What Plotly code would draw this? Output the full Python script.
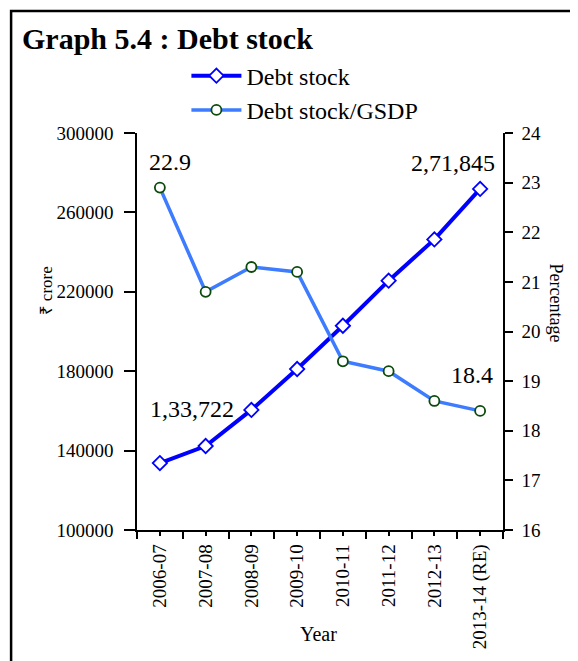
import plotly.graph_objects as go

years = ["2006-07", "2007-08", "2008-09", "2009-10", "2010-11", "2011-12", "2012-13", "2013-14 (RE)"]
debt_stock = [133722, 142300, 160500, 181100, 202900, 225600, 246400, 271845]
debt_gsdp = [22.9, 20.8, 21.3, 21.2, 19.4, 19.2, 18.6, 18.4]

left_ticks = [100000, 140000, 180000, 220000, 260000, 300000]
right_ticks = [16, 17, 18, 19, 20, 21, 22, 23, 24]

FONT = "Liberation Serif, Times New Roman, serif"

fig = go.Figure()
fig.add_trace(go.Scatter(
    x=years, y=debt_stock, name="Debt stock", mode="lines+markers",
    line=dict(color="#0000FF", width=4),
    marker=dict(symbol="diamond", size=11, color="white", line=dict(color="#0000FF", width=1.8)),
    yaxis="y", xaxis="x"))
fig.add_trace(go.Scatter(
    x=years, y=debt_gsdp, name="Debt stock/GSDP", mode="lines+markers",
    line=dict(color="#3D7BFF", width=3.5),
    marker=dict(symbol="circle", size=10, color="white", line=dict(color="#0B4A0B", width=1.8)),
    yaxis="y2", xaxis="x"))
# helper trace on overlay x axis for minor ticks at category centres
fig.add_trace(go.Scatter(x=years, y=debt_stock, xaxis="x2", yaxis="y", mode="none",
                         showlegend=False, hoverinfo="skip"))

fig.update_layout(
    width=578, height=661,
    margin=dict(l=129, r=83, t=125, b=139),
    paper_bgcolor="white", plot_bgcolor="white",
    font=dict(family=FONT, color="black", size=19),
    showlegend=True,
    legend=dict(x=0.135, y=1.20, xanchor="left", yanchor="top",
                font=dict(family=FONT, size=24, color="black"), bgcolor="rgba(0,0,0,0)",
                tracegroupgap=0, itemwidth=50),
    xaxis=dict(type="category", tickson="boundaries", ticks="outside", ticklen=7,
               tickwidth=1.5, tickcolor="black", showline=True, linecolor="black",
               linewidth=1.5, tickangle=-90, showgrid=False, zeroline=False,
               ticklabelstandoff=5,
               tickfont=dict(family=FONT, size=19), range=[-0.5, 7.5]),
    xaxis2=dict(type="category", overlaying="x", matches="x", ticks="outside", ticklen=5,
                tickwidth=1.5, tickcolor="black", showticklabels=False, showline=False,
                showgrid=False, zeroline=False, side="bottom"),
    yaxis=dict(range=[100000, 300000], tickvals=left_ticks, ticks="outside", ticklen=11,
               tickwidth=1.5, tickcolor="black", showline=True, linecolor="black",
               linewidth=1.5, showgrid=False, zeroline=False, tickformat="d",
               ticklabelstandoff=7,
               tickfont=dict(family=FONT, size=19)),
    yaxis2=dict(range=[16, 24], tickvals=right_ticks, overlaying="y", side="right",
                ticks="outside", ticklen=8, tickwidth=1.5, tickcolor="black",
                showline=True, linecolor="black", linewidth=1.5, showgrid=False,
                zeroline=False, ticklabelstandoff=5, tickfont=dict(family=FONT, size=19)),
)

annotations = [
    dict(text="<b>Graph 5.4 : Debt stock</b>", xref="paper", yref="paper",
         x=-0.3197, y=1.2368, xanchor="left", yanchor="middle", showarrow=False,
         font=dict(family=FONT, size=30)),
    dict(text="₹ crore", xref="paper", yref="paper", x=-0.279, y=0.602, textangle=-90,
         showarrow=False, font=dict(family=FONT, size=17)),
    dict(text="Percentage", xref="paper", yref="paper", x=1.1776, y=0.573, textangle=90,
         showarrow=False, font=dict(family=FONT, size=18)),
    dict(text="Year", xref="paper", yref="paper", x=0.497, y=-0.2947, showarrow=False,
         font=dict(family=FONT, size=20)),
    dict(text=f"{debt_gsdp[0]}", x=years[0], y=debt_gsdp[0], xref="x", yref="y2",
         yshift=26, xshift=10, showarrow=False, font=dict(family=FONT, size=24)),
    dict(text=f"{debt_gsdp[-1]}", x=years[-1], y=debt_gsdp[-1], xref="x", yref="y2",
         yshift=36, xshift=-8, showarrow=False, font=dict(family=FONT, size=24)),
    dict(text="1,33,722", x=years[0], y=debt_stock[0], xref="x", yref="y",
         yshift=54, xshift=32, showarrow=False, font=dict(family=FONT, size=24)),
    dict(text="2,71,845", x=years[-1], y=debt_stock[-1], xref="x", yref="y",
         yshift=26, xshift=-27, showarrow=False, font=dict(family=FONT, size=24)),
]
fig.update_layout(annotations=annotations)

fig.add_shape(type="rect", xref="paper", yref="paper", x0=-0.344, y0=-0.5, x1=1.5, y1=1.307,
              line=dict(color="black", width=2.5), fillcolor="rgba(0,0,0,0)", layer="below")

fig.write_html("out.html")
